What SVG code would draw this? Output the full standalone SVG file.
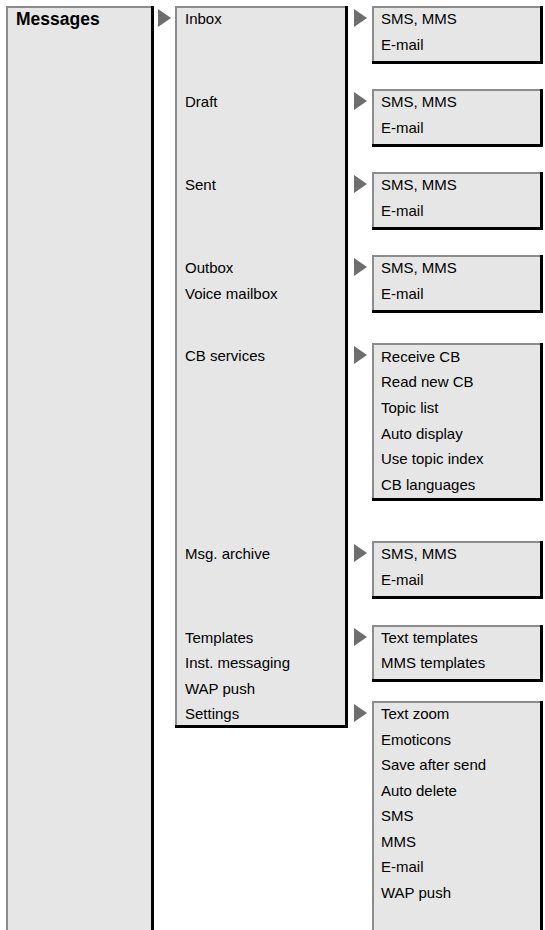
<svg xmlns="http://www.w3.org/2000/svg" width="545" height="930" viewBox="0 0 545 930">
<style>
.bg{fill:#e6e6e6}
.lt{fill:none;stroke:#8c8c8c;stroke-width:2}
.dk{fill:none;stroke:#000;stroke-width:3}
.t{font-family:"Liberation Sans",Arial,sans-serif;font-size:15px;fill:#000}
.b{font-weight:bold;font-size:17.5px}
.arr{fill:#6e6e6e}
</style>
<rect width="545" height="930" fill="#fff"/>
<g id="col1">
<rect class="bg" x="6" y="6" width="146" height="924"/>
<path class="lt" d="M7,930 V7 H152"/>
<path class="dk" d="M152.5,6 V930"/>
<text class="t b" x="16" y="25">Messages</text>
</g>
<g id="col2">
<rect class="bg" x="175" y="6" width="171" height="720"/>
<path class="lt" d="M176,725 V7 H346"/>
<path class="dk" d="M346.5,6 V726.5 H175"/>
<text class="t" x="185" y="23.5">Inbox</text>
<text class="t" x="185" y="106.5">Draft</text>
<text class="t" x="185" y="189.5">Sent</text>
<text class="t" x="185" y="272.5">Outbox</text>
<text class="t" x="185" y="298.5">Voice mailbox</text>
<text class="t" x="185" y="360.5">CB services</text>
<text class="t" x="185" y="558.5">Msg. archive</text>
<text class="t" x="185" y="642.5">Templates</text>
<text class="t" x="185" y="667.5">Inst. messaging</text>
<text class="t" x="185" y="693.5">WAP push</text>
<text class="t" x="185" y="718.5">Settings</text>
</g>
<g id="inbox-sub">
<rect class="bg" x="372" y="6" width="169" height="56"/>
<path class="lt" d="M373,61 V7 H541"/>
<path class="dk" d="M541.5,6 V62.5 H372"/>
<text class="t" x="381" y="23.5">SMS, MMS</text>
<text class="t" x="381" y="49.5">E-mail</text>
</g>
<g id="draft-sub">
<rect class="bg" x="372" y="89" width="169" height="56"/>
<path class="lt" d="M373,144 V90 H541"/>
<path class="dk" d="M541.5,89 V145.5 H372"/>
<text class="t" x="381" y="106.5">SMS, MMS</text>
<text class="t" x="381" y="132.5">E-mail</text>
</g>
<g id="sent-sub">
<rect class="bg" x="372" y="172" width="169" height="56"/>
<path class="lt" d="M373,227 V173 H541"/>
<path class="dk" d="M541.5,172 V228.5 H372"/>
<text class="t" x="381" y="189.5">SMS, MMS</text>
<text class="t" x="381" y="215.5">E-mail</text>
</g>
<g id="outbox-sub">
<rect class="bg" x="372" y="255" width="169" height="56"/>
<path class="lt" d="M373,310 V256 H541"/>
<path class="dk" d="M541.5,255 V311.5 H372"/>
<text class="t" x="381" y="272.5">SMS, MMS</text>
<text class="t" x="381" y="298.5">E-mail</text>
</g>
<g id="cb-sub">
<rect class="bg" x="372" y="343" width="169" height="156"/>
<path class="lt" d="M373,498 V344 H541"/>
<path class="dk" d="M541.5,343 V499.5 H372"/>
<text class="t" x="381" y="361.5">Receive CB</text>
<text class="t" x="381" y="386.5">Read new CB</text>
<text class="t" x="381" y="412.5">Topic list</text>
<text class="t" x="381" y="438.5">Auto display</text>
<text class="t" x="381" y="463.5">Use topic index</text>
<text class="t" x="381" y="489.5">CB languages</text>
</g>
<g id="archive-sub">
<rect class="bg" x="372" y="541" width="169" height="56"/>
<path class="lt" d="M373,596 V542 H541"/>
<path class="dk" d="M541.5,541 V597.5 H372"/>
<text class="t" x="381" y="558.5">SMS, MMS</text>
<text class="t" x="381" y="584.5">E-mail</text>
</g>
<g id="templates-sub">
<rect class="bg" x="372" y="625" width="169" height="55"/>
<path class="lt" d="M373,679 V626 H541"/>
<path class="dk" d="M541.5,625 V680.5 H372"/>
<text class="t" x="381" y="642.5">Text templates</text>
<text class="t" x="381" y="667.5">MMS templates</text>
</g>
<g id="settings-sub">
<rect class="bg" x="372" y="701" width="169" height="229"/>
<path class="lt" d="M373,930 V702 H541"/>
<path class="dk" d="M541.5,701 V930"/>
<text class="t" x="381" y="718.5">Text zoom</text>
<text class="t" x="381" y="744.5">Emoticons</text>
<text class="t" x="381" y="769.5">Save after send</text>
<text class="t" x="381" y="795.5">Auto delete</text>
<text class="t" x="381" y="820.5">SMS</text>
<text class="t" x="381" y="846.5">MMS</text>
<text class="t" x="381" y="871.5">E-mail</text>
<text class="t" x="381" y="897.5">WAP push</text>
</g>
<g id="connectors">
<polygon class="arr" points="158,9 171,18 158,27"/>
<polygon class="arr" points="354,9 367,18 354,27"/>
<polygon class="arr" points="354,92 367,101 354,110"/>
<polygon class="arr" points="354,175 367,184 354,193"/>
<polygon class="arr" points="354,258 367,267 354,276"/>
<polygon class="arr" points="354,346 367,355 354,364"/>
<polygon class="arr" points="354,544 367,553 354,562"/>
<polygon class="arr" points="354,628 367,637 354,646"/>
<polygon class="arr" points="354,704 367,713 354,722"/>
</g>
</svg>
